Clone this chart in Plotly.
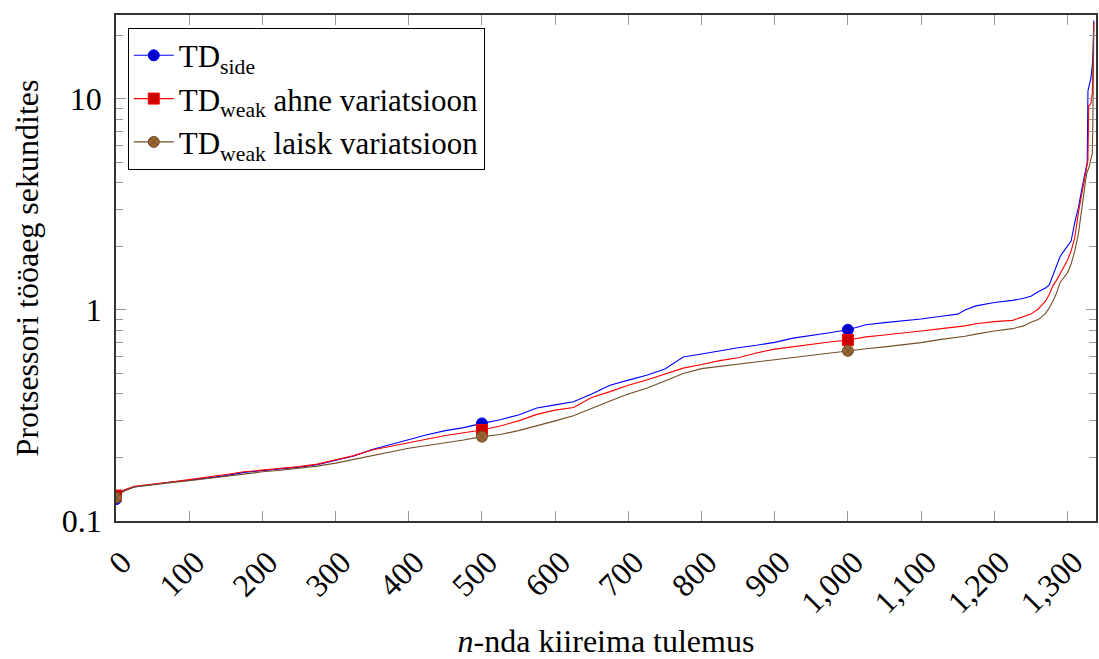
import plotly.graph_objects as go

# ---------------- data ----------------
N = [0, 10, 25, 50, 75, 100, 125, 150, 175, 200, 225, 250, 275, 300, 325, 350,
     375, 400, 425, 450, 475, 500, 525, 550, 575, 600, 625, 650, 675, 700, 725,
     750, 775, 800, 825, 850, 875, 900, 925, 950, 975, 1000, 1025, 1050, 1075,
     1100, 1125, 1150, 1160, 1175, 1200, 1225, 1240, 1250, 1260, 1270, 1275,
     1280, 1285, 1290, 1295, 1300, 1305, 1310, 1315, 1320, 1323, 1326, 1327,
     1328, 1329, 1330, 1332, 1334, 1335, 1336]

td_side = [0.127, 0.139, 0.145, 0.149, 0.153, 0.156, 0.160, 0.164, 0.170, 0.173,
           0.176, 0.180, 0.185, 0.194, 0.203, 0.218, 0.230, 0.244, 0.256, 0.268,
           0.277, 0.290, 0.302, 0.318, 0.343, 0.355, 0.367, 0.400, 0.440, 0.465,
           0.490, 0.525, 0.598, 0.618, 0.640, 0.662, 0.680, 0.702, 0.735, 0.760,
           0.780, 0.805, 0.850, 0.870, 0.886, 0.905, 0.930, 0.955, 1.000, 1.045,
           1.085, 1.110, 1.135, 1.160, 1.220, 1.270, 1.310, 1.450, 1.600, 1.790,
           1.900, 2.000, 2.120, 2.600, 3.050, 3.800, 4.300, 4.800, 5.000, 10.90,
           11.20, 11.50, 12.50, 14.50, 17.00, 23.50]

td_weak_ahne = [0.132, 0.140, 0.146, 0.150, 0.153, 0.157, 0.161, 0.166, 0.171, 0.174,
                0.177, 0.181, 0.186, 0.194, 0.204, 0.217, 0.226, 0.236, 0.245, 0.254,
                0.262, 0.270, 0.282, 0.298, 0.320, 0.335, 0.345, 0.385, 0.410, 0.440,
                0.466, 0.495, 0.530, 0.551, 0.575, 0.593, 0.625, 0.652, 0.670, 0.690,
                0.705, 0.720, 0.745, 0.760, 0.775, 0.795, 0.813, 0.828, 0.840, 0.860,
                0.880, 0.892, 0.925, 0.955, 1.010, 1.100, 1.180, 1.300, 1.380, 1.480,
                1.580, 1.720, 1.900, 2.200, 2.900, 3.600, 4.150, 4.700, 4.900, 5.100,
                9.270, 9.300, 9.500, 10.70, 15.00, 23.00]

td_weak_laisk = [0.129, 0.138, 0.145, 0.149, 0.152, 0.155, 0.159, 0.163, 0.167, 0.171,
                 0.174, 0.178, 0.182, 0.188, 0.196, 0.205, 0.213, 0.221, 0.228, 0.234,
                 0.242, 0.251, 0.257, 0.268, 0.282, 0.298, 0.315, 0.340, 0.370, 0.400,
                 0.425, 0.460, 0.500, 0.527, 0.540, 0.553, 0.567, 0.582, 0.596, 0.610,
                 0.625, 0.640, 0.655, 0.668, 0.682, 0.700, 0.723, 0.738, 0.750, 0.768,
                 0.795, 0.815, 0.840, 0.875, 0.900, 0.960, 1.020, 1.100, 1.200, 1.350,
                 1.420, 1.500, 1.650, 1.900, 2.300, 3.100, 3.900, 4.400, 4.500, 4.600,
                 4.700, 4.800, 5.200, 5.500, 9.500, 22.00]

MARK_AT = [0, 500, 1000]
X_TICKS = list(range(0, 1301, 100))
Y_TICKS = [0.1, 1, 10]
Y_TICK_TEXT = ["0.1", "1", "10"]
Y_MINOR = [v * m for v in (0.1, 1, 10) for m in range(2, 10)]
X_TITLE = "<i>n</i>-nda kiireima tulemus"
Y_TITLE = "Protsessori tööaeg sekundites"

series = [
    dict(name="TD<sub>side</sub>", y=td_side, line="#0000ff",
         fill="#0000cc", symbol="circle"),
    dict(name="TD<sub>weak</sub> ahne variatsioon", y=td_weak_ahne, line="#ff0000",
         fill="#cc0000", symbol="square"),
    dict(name="TD<sub>weak</sub> laisk variatsioon", y=td_weak_laisk, line="#734d26",
         fill="#996633", symbol="circle-x"),
]

FONT = "Liberation Serif, Times New Roman, serif"

fig = go.Figure()
for s in series:
    fig.add_trace(go.Scatter(x=N, y=s["y"], mode="lines",
                             line=dict(color=s["line"], width=1.1),
                             showlegend=False, hoverinfo="x+y"))
for s in series:
    mx = [n for n in N if n in MARK_AT]
    my = [v for n, v in zip(N, s["y"]) if n in MARK_AT]
    fig.add_trace(go.Scatter(x=mx, y=my, mode="markers",
                             marker=dict(symbol=s["symbol"], size=11, color=s["fill"],
                                         line=dict(color=s["line"], width=1)),
                             showlegend=False))
for s in series:
    fig.add_trace(go.Scatter(x=[None], y=[None], mode="lines+markers", name=s["name"],
                             line=dict(color=s["line"], width=1.1),
                             marker=dict(symbol=s["symbol"], size=11, color=s["fill"],
                                         line=dict(color=s["line"], width=1))))

fig.update_layout(
    width=1099, height=659,
    margin=dict(l=116, r=1, t=15, b=135),
    paper_bgcolor="white", plot_bgcolor="white",
    font=dict(family=FONT, size=32, color="black"),
    showlegend=True,
    legend=dict(x=0.012, y=0.975, xanchor="left", yanchor="top",
                bgcolor="white", bordercolor="black", borderwidth=1,
                font=dict(family=FONT, size=31), tracegroupgap=0,
                itemwidth=40),
    xaxis=dict(range=[0, 1339], tickmode="array", tickvals=X_TICKS,
               tickformat=",d", tickangle=-45,
               ticks="inside", ticklen=10, tickcolor="#999999", tickwidth=1,
               showline=True, linecolor="#333333", linewidth=1.5, mirror="allticks",
               showgrid=False, zeroline=False,
               ticklabelstandoff=8, ticklabelshift=6,
               tickfont=dict(family=FONT, size=32),
               title=dict(text=X_TITLE, font=dict(family=FONT, size=32), standoff=15)),
    yaxis=dict(type="log", range=[-1, 1.397], tickmode="array",
               tickvals=Y_TICKS, ticktext=Y_TICK_TEXT,
               ticks="inside", ticklen=10, tickcolor="#999999", tickwidth=1,
               minor=dict(tickmode="array", tickvals=Y_MINOR, ticks="inside",
                          ticklen=7, tickcolor="#999999", tickwidth=1, showgrid=False),
               showline=True, linecolor="#333333", linewidth=1.5, mirror="allticks",
               showgrid=False, zeroline=False,
               tickfont=dict(family=FONT, size=32), ticklabelstandoff=6,
               title=dict(text=Y_TITLE, font=dict(family=FONT, size=32), standoff=14)),
)

fig.write_html("out.html")
